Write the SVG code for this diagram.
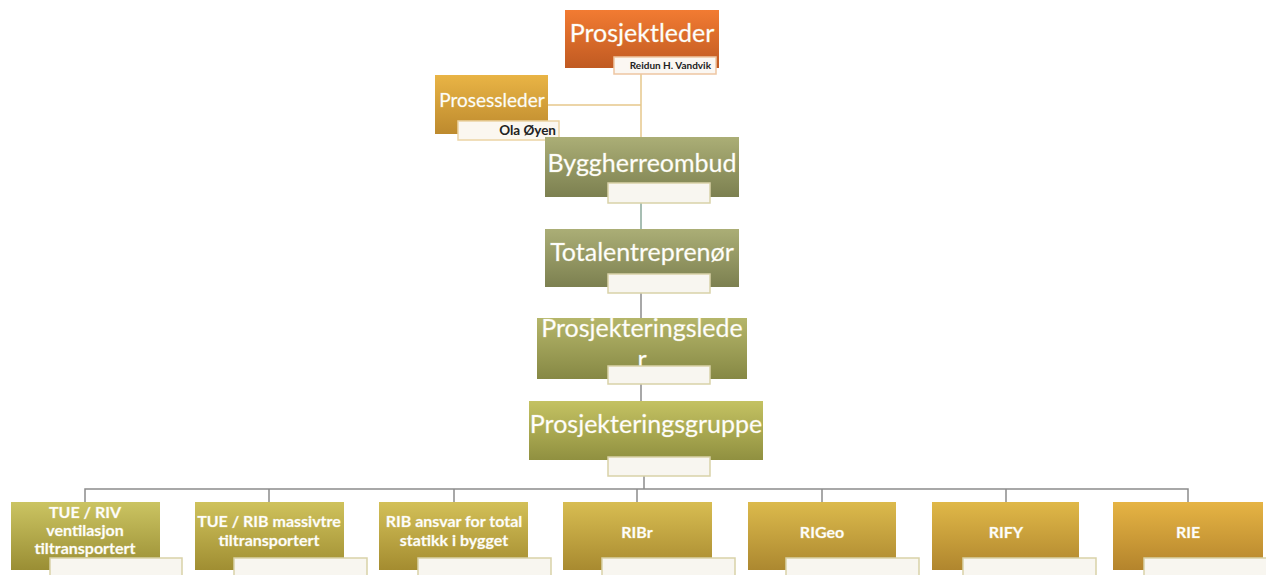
<svg xmlns="http://www.w3.org/2000/svg" width="1266" height="575" viewBox="0 0 1266 575">
<defs>
<linearGradient id="gOr" x1="0" y1="0" x2="0" y2="1"><stop offset="0" stop-color="#f27b32"/><stop offset="1" stop-color="#c05a22"/></linearGradient>
<linearGradient id="gPr" x1="0" y1="0" x2="0" y2="1"><stop offset="0" stop-color="#e9b445"/><stop offset="1" stop-color="#bd8a2e"/></linearGradient>
<linearGradient id="gGr" x1="0" y1="0" x2="0" y2="1"><stop offset="0" stop-color="#abae76"/><stop offset="1" stop-color="#7c8050"/></linearGradient>
<linearGradient id="gGr2" x1="0" y1="0" x2="0" y2="1"><stop offset="0" stop-color="#b5b66a"/><stop offset="1" stop-color="#868844"/></linearGradient>
<linearGradient id="gGr3" x1="0" y1="0" x2="0" y2="1"><stop offset="0" stop-color="#c4c262"/><stop offset="1" stop-color="#909040"/></linearGradient>
<linearGradient id="c1" x1="0" y1="0" x2="0" y2="1"><stop offset="0" stop-color="#cbc462"/><stop offset="1" stop-color="#9a8e34"/></linearGradient>
<linearGradient id="c2" x1="0" y1="0" x2="0" y2="1"><stop offset="0" stop-color="#cfc25c"/><stop offset="1" stop-color="#a08e32"/></linearGradient>
<linearGradient id="c3" x1="0" y1="0" x2="0" y2="1"><stop offset="0" stop-color="#d3c058"/><stop offset="1" stop-color="#a48c30"/></linearGradient>
<linearGradient id="c4" x1="0" y1="0" x2="0" y2="1"><stop offset="0" stop-color="#d8bd52"/><stop offset="1" stop-color="#a88a30"/></linearGradient>
<linearGradient id="c5" x1="0" y1="0" x2="0" y2="1"><stop offset="0" stop-color="#dcba4c"/><stop offset="1" stop-color="#ac8830"/></linearGradient>
<linearGradient id="c6" x1="0" y1="0" x2="0" y2="1"><stop offset="0" stop-color="#e0b848"/><stop offset="1" stop-color="#b0862e"/></linearGradient>
<linearGradient id="c7" x1="0" y1="0" x2="0" y2="1"><stop offset="0" stop-color="#e6b444"/><stop offset="1" stop-color="#b4842c"/></linearGradient>
</defs>
<style>
.t{font-family:Lato,"Open Sans","Liberation Sans",sans-serif;fill:#fff;text-anchor:middle;stroke:#f4f0d8;stroke-width:0.6;stroke-opacity:0.5}
.big{font-size:25px}
.mid{font-size:19px}
.sm{font-size:16px;font-weight:bold}
.lab{fill:#f8f6f0;stroke:#d9d2a8;stroke-width:1.5}
.labO{fill:#fbf7f2;stroke:#eec6a2;stroke-width:1.5}
.labP{fill:#fbf7f0;stroke:#ecd4a4;stroke-width:1.5}
.lt{font-family:Lato,"Open Sans","Liberation Sans",sans-serif;fill:#222;text-anchor:end;font-weight:bold}
.cn{fill:none;stroke:#8c8c8c;stroke-width:1.5}
</style>
<g id="connectors">
<path d="M641 74 V137 M548 105 H641" fill="none" stroke="#e6c88c" stroke-width="1.5"/>
<path d="M641 203 V229" fill="none" stroke="#8aa89a" stroke-width="1.5"/>
<path class="cn" d="M641 293 V318 M641 384 V401"/>
<path class="cn" d="M644 476 V489 M85 502 V489 H1188 V502 M269 489 V502 M454 489 V502 M637 489 V502 M822 489 V502 M1006 489 V502"/>
</g>
<g id="prosjektleder">
<rect x="565" y="10" width="154" height="58" fill="url(#gOr)"/>
<text class="t big" x="642" y="42">Prosjektleder</text>
<rect class="labO" x="614" y="57" width="102" height="17"/>
<text class="lt" x="711" y="69" font-size="10">Reidun H. Vandvik</text>
</g>
<g id="prosessleder">
<rect x="435" y="75" width="113" height="59" fill="url(#gPr)"/>
<text class="t mid" x="492" y="107">Prosessleder</text>
<rect class="labP" x="458" y="121" width="101" height="19"/>
<text class="lt" x="556" y="135" font-size="13.5">Ola Øyen</text>
</g>
<g id="byggherreombud">
<rect x="545" y="137" width="194" height="60" fill="url(#gGr)"/>
<text class="t big" x="642" y="172">Byggherreombud</text>
<rect class="lab" x="608" y="183" width="102" height="20"/>
</g>
<g id="totalentreprenor">
<rect x="545" y="229" width="194" height="58" fill="url(#gGr)"/>
<text class="t big" x="642" y="261">Totalentreprenør</text>
<rect class="lab" x="608" y="274" width="102" height="19"/>
</g>
<g id="prosjekteringsleder">
<rect x="537" y="318" width="210" height="61" fill="url(#gGr2)"/>
<text class="t big" x="642" y="337">Prosjekteringslede</text>
<text class="t big" x="642" y="368">r</text>
<rect class="lab" x="608" y="366" width="102" height="18"/>
</g>
<g id="prosjekteringsgruppe">
<rect x="529" y="401" width="234" height="59" fill="url(#gGr3)"/>
<text class="t big" x="646" y="433">Prosjekteringsgruppe</text>
<rect class="lab" x="608" y="457" width="102" height="19" fill="#fff"/>
</g>
<g id="tue-riv">
<rect x="11" y="502" width="149" height="68" fill="url(#c1)"/>
<text class="t sm" x="85" y="518">TUE / RIV</text>
<text class="t sm" x="85" y="536">ventilasjon</text>
<text class="t sm" x="85" y="554">tiltransportert</text>
<rect class="lab" x="50" y="558" width="132" height="22"/>
</g>
<g id="tue-rib">
<rect x="195" y="502" width="149" height="68" fill="url(#c2)"/>
<text class="t sm" x="269" y="527">TUE / RIB massivtre</text>
<text class="t sm" x="269" y="546">tiltransportert</text>
<rect class="lab" x="234" y="558" width="133" height="22"/>
</g>
<g id="rib">
<rect x="379" y="502" width="149" height="68" fill="url(#c3)"/>
<text class="t sm" x="454" y="527">RIB ansvar for total</text>
<text class="t sm" x="454" y="546">statikk i bygget</text>
<rect class="lab" x="418" y="558" width="133" height="22"/>
</g>
<g id="ribr">
<rect x="563" y="502" width="149" height="68" fill="url(#c4)"/>
<text class="t sm" x="637" y="538">RIBr</text>
<rect class="lab" x="602" y="558" width="133" height="22"/>
</g>
<g id="rigeo">
<rect x="748" y="502" width="148" height="68" fill="url(#c5)"/>
<text class="t sm" x="822" y="538">RIGeo</text>
<rect class="lab" x="786" y="558" width="133" height="22"/>
</g>
<g id="rify">
<rect x="932" y="502" width="147" height="68" fill="url(#c6)"/>
<text class="t sm" x="1006" y="538">RIFY</text>
<rect class="lab" x="963" y="558" width="133" height="22"/>
</g>
<g id="rie">
<rect x="1113" y="502" width="150" height="68" fill="url(#c7)"/>
<text class="t sm" x="1188" y="538">RIE</text>
<rect class="lab" x="1144" y="558" width="133" height="22"/>
</g>
</svg>
